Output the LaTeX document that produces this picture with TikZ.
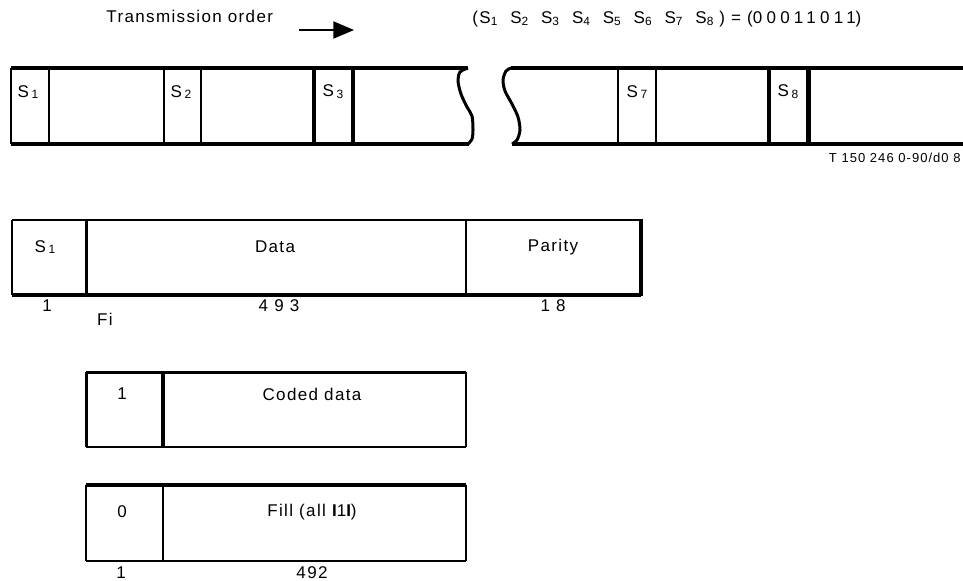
\documentclass[tikz,border=0pt]{standalone}
\usepackage{fontspec}
\setmainfont{Liberation Sans}[LetterSpace=8]
\usetikzlibrary{arrows}

\newcommand{\Slab}[1]{S\kern0.15em\raisebox{-0.2ex}{\fontsize{6}{7}\selectfont #1}}
\newcommand{\Shd}[1]{S\textsubscript{#1}\hspace{0.7em}}

\begin{document}
\begin{tikzpicture}[x=0.5pt, y=-0.5pt, font=\fontsize{8.5}{10}\selectfont]
	\useasboundingbox (0,0) rectangle (963,580);
	%
	% header
	\node[anchor=base west, inner sep=0] (order) at (106,22) {Transmission order};
	\coordinate (arrA) at (299,30);
	\coordinate (arrB) at (354,30);
	\draw[line width = 1.4pt, ->, >=triangle 45] (arrA) -- (arrB);
	\node[anchor=base west, inner sep=0] (seq) at (472,23)
		{(\Shd{1}\Shd{2}\Shd{3}\Shd{4}\Shd{5}\Shd{6}\Shd{7}S\textsubscript{8}\hspace{0.3em}) = ({\addfontfeature{LetterSpace=25}00011011})};
	%
	% frame strip -- left part
	\draw[line width = 2.2pt] (11,68) -- (468,68);
	\draw[line width = 2.2pt] (11,144) -- (469,144);
	\draw[line width = 1pt] (11,68) -- (11,144);
	\draw[line width = 1pt] (49,68) -- (49,144);
	\draw[line width = 1pt] (164,68) -- (164,144);
	\draw[line width = 1pt] (201,68) -- (201,144);
	\draw[line width = 1.7pt] (314,68) -- (314,144);
	\draw[line width = 2pt] (353,68) -- (353,144);
	\draw[line width = 1.5pt] plot[smooth] coordinates
		{(468,68) (460,72) (458,81) (461,94) (467,107) (472,116) (473,130) (472,139) (468,144)};
	%
	% frame strip -- right part
	\draw[line width = 2.2pt] (511,68) -- (963,68);
	\draw[line width = 2.2pt] (512,144) -- (963,144);
	\draw[line width = 1.5pt] plot[smooth] coordinates
		{(511,68) (506,71) (503,80) (505,91) (512,104) (518,117) (520,130) (517,140) (512,144)};
	\draw[line width = 1pt] (618,68) -- (618,144);
	\draw[line width = 1pt] (656,68) -- (656,144);
	\draw[line width = 2.1pt] (769,68) -- (769,144);
	\draw[line width = 2.5pt] (808,68) -- (808,144);
	%
	% sync labels
	\node[] (s1) at (28,92) {\Slab{1}};
	\node[] (s2) at (181,92) {\Slab{2}};
	\node[] (s3) at (333,92) {\Slab{3}};
	\node[] (s7) at (637,92) {\Slab{7}};
	\node[] (s8) at (788,92) {\Slab{8}};
	\node[anchor=base east, inner sep=0, font=\fontsize{6.5}{8}\selectfont] (ref) at (961,162) {T 150 246 0-90/d0 8};
	%
	%
	% frame
	\draw[line width = 1.4pt] (12,220) -- (641,220);
	\draw[line width = 2.2pt] (12,295) -- (641,295);
	\draw[line width = 1pt] (12,220) -- (12,295);
	\draw[line width = 1.5pt] (86,220) -- (86,295);
	\draw[line width = 1.1pt] (466,220) -- (466,295);
	\draw[line width = 2pt] (641,219) -- (641,296);
	\node[] (fs) at (45,247) {\Slab{1}};
	\node[] (fdata) at (275,247) {Data};
	\node[] (fpar) at (553,247) {Parity};
	\node[anchor=base] (n1) at (47,311) {1};
	\node[anchor=base] (fi) at (105,325) {Fi};
	\node[anchor=base] (n493) at (279,311) {4 9 3};
	\node[anchor=base] (n18) at (553,311) {1 8};
	%
	%
	% coded data block
	\draw[line width = 1.5pt] (86,372) -- (466,372);
	\draw[line width = 1.3pt] (86,447) -- (466,447);
	\draw[line width = 1.5pt] (86,372) -- (86,447);
	\draw[line width = 1.6pt] (163,372) -- (163,447);
	\draw[line width = 0.6pt] (466,372) -- (466,447);
	\node[] (c1) at (122,394) {1};
	\node[] (cdata) at (312,394) {Coded data};
	%
	% fill block
	\draw[line width = 2.2pt] (86,485) -- (466,485);
	\draw[line width = 1.3pt] (86,561) -- (466,561);
	\draw[line width = 1.2pt] (86,485) -- (86,561);
	\draw[line width = 1pt] (163,485) -- (163,561);
	\draw[line width = 0.6pt] (466,485) -- (466,561);
	\node[] (f0) at (122,512) {0};
	\node[] (fill) at (312,512) {Fill (all {\bfseries I}1{\bfseries I})};
	\node[anchor=base] (m1) at (121,578) {1};
	\node[anchor=base] (m492) at (312,578) {492};
\end{tikzpicture}
\end{document}
